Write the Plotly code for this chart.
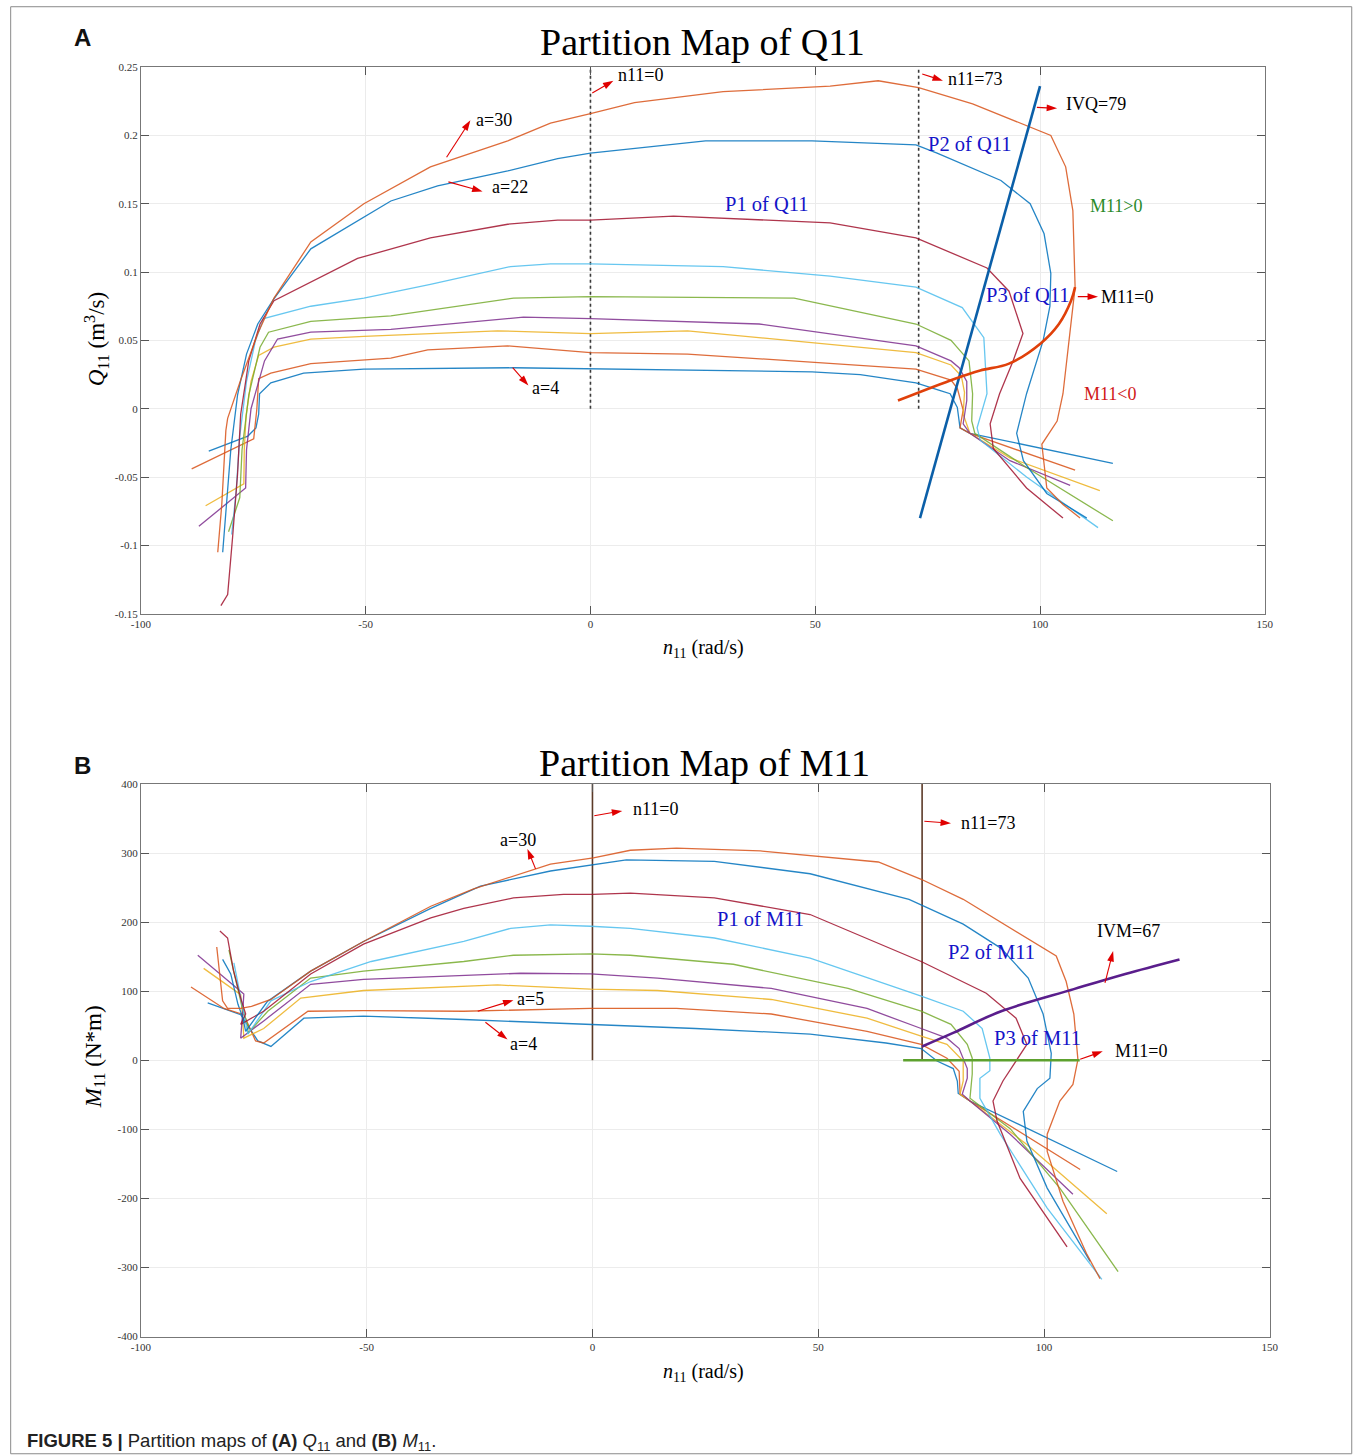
import plotly.graph_objects as go

# Measured page -> screenshot mapping of the viewer (scale and offset); every
# reference pixel position is converted through it.
SX, SY = 0.987, 0.9906
OX, OY = 9.0, 6.0
W, H = 1365, 1464
SERIF = "Liberation Serif"
SANS = "Liberation Sans"


def fx(px):
    return ((px - OX) / SX) / W


def fy(py):
    return 1 - ((py - OY) / SY) / H


# ------------------------------------------------------------------
# Panel A : Q11 curves (n11 in rad/s, Q11 in m^3/s)
# ------------------------------------------------------------------
Q_N_A4 = [-84.9, -76.2, -74.4, -73.8, -73.6, -71.1, -63.8, -50.4, -17.1, 4.4, 49.3, 60, 72.4, 78, 80, 81.6, 82.2, 84.4, 116.2]
Q_V_A4 = [-0.031, -0.020, -0.014, -0.004, 0.011, 0.019, 0.026, 0.029, 0.030, 0.029, 0.027, 0.025, 0.019, 0.013, 0.011, 0.001, -0.014, -0.018, -0.040]

Q_N_A5 = [-88.7, -74.9, -74.2, -73.8, -71.1, -62.2, -44.4, -36.2, -18.4, 0, 21.6, 72.4, 80.2, 81.6, 82.9, 82.2, 84.4, 107.8]
Q_V_A5 = [-0.044, -0.022, 0.0, 0.022, 0.026, 0.033, 0.037, 0.043, 0.046, 0.041, 0.040, 0.029, 0.021, 0.015, -0.001, -0.014, -0.018, -0.045]

Q_N_C3 = [-85.6, -77.1, -77.0, -76.6, -75.5, -73.8, -70.4, -62.2, -50.4, -20.7, 0, 21.6, 72.4, 80.2, 82.5, 83.2, 82.9, 84.4, 93.3, 113.3]
Q_V_C3 = [-0.071, -0.055, -0.030, -0.005, 0.020, 0.039, 0.045, 0.051, 0.053, 0.057, 0.055, 0.057, 0.041, 0.032, 0.024, 0.012, -0.004, -0.018, -0.036, -0.060]

Q_N_C4 = [-87.1, -76.7, -76.5, -75.5, -72.5, -69.6, -62.2, -44.4, -14.9, 0, 37.5, 72.4, 80.2, 82.0, 83.7, 83.7, 82.9, 84.4, 93.3, 106.7]
Q_V_C4 = [-0.086, -0.058, -0.030, 0.0, 0.035, 0.051, 0.056, 0.058, 0.067, 0.066, 0.062, 0.046, 0.035, 0.030, 0.020, 0.006, -0.011, -0.018, -0.038, -0.056]

Q_N_C5 = [-80.5, -78.0, -77.5, -76.0, -73.5, -71.6, -62.2, -44.4, -17.1, 0, 45.3, 72.4, 80.2, 84.2, 85.0, 84.8, 85.5, 97, 116.2]
Q_V_C5 = [-0.090, -0.065, -0.030, 0.010, 0.045, 0.056, 0.064, 0.068, 0.081, 0.082, 0.081, 0.062, 0.050, 0.035, 0.011, -0.009, -0.018, -0.043, -0.082]

Q_N_C6 = [-79.8, -78.8, -78.0, -76.5, -74.5, -72.7, -62.2, -50.4, -35.6, -17.8, -8.9, 0, 29.5, 53.3, 72.4, 82.7, 87.5, 88.2, 86.0, 86.7, 97, 112.9]
Q_V_C6 = [-0.092, -0.060, -0.020, 0.020, 0.050, 0.066, 0.075, 0.081, 0.091, 0.104, 0.106, 0.106, 0.104, 0.097, 0.089, 0.074, 0.052, 0.011, -0.014, -0.023, -0.050, -0.087]

Q_N_C7 = [-82.2, -80.7, -79.6, -78.5, -77.8, -76.0, -73.5, -70.4, -51.8, -44.4, -35.6, -18.4, -7.3, 0, 18.5, 53.3, 72.4, 88.2, 93.1, 96.2, 94.0, 91.0, 88.9, 89.6, 97, 105.1]
Q_V_C7 = [-0.144, -0.136, -0.094, -0.048, -0.004, 0.035, 0.062, 0.079, 0.110, 0.117, 0.125, 0.135, 0.138, 0.138, 0.141, 0.136, 0.125, 0.103, 0.086, 0.055, 0.035, 0.011, -0.011, -0.029, -0.058, -0.080]

Q_N_A22 = [-81.8, -81.0, -80.0, -78.5, -76.5, -74.0, -70.5, -62.2, -44.4, -34, -18.4, -7.3, 0, 25.6, 49.3, 72.4, 77.1, 91.3, 97.8, 100.9, 102.4, 102.2, 100.7, 97, 94.8, 96.3, 101.5, 110.4]
Q_V_A22 = [-0.105, -0.070, -0.030, 0.010, 0.040, 0.062, 0.080, 0.117, 0.152, 0.163, 0.174, 0.183, 0.187, 0.196, 0.196, 0.193, 0.187, 0.167, 0.150, 0.128, 0.099, 0.075, 0.050, 0.011, -0.018, -0.038, -0.062, -0.080]

Q_N_A30 = [-82.9, -82.0, -81.1, -80.7, -77.8, -74, -70.4, -62.2, -50.4, -35.6, -18.4, -8.9, 0, 9.8, 29.5, 53.3, 64, 73, 85, 102.4, 105.7, 107.3, 107.8, 106.7, 105.1, 103.8, 100.4, 101.5, 105.1, 108.9]
Q_V_A30 = [-0.105, -0.070, -0.016, -0.007, 0.021, 0.055, 0.081, 0.122, 0.150, 0.177, 0.196, 0.209, 0.216, 0.224, 0.232, 0.236, 0.240, 0.235, 0.223, 0.200, 0.177, 0.145, 0.089, 0.059, 0.011, -0.009, -0.026, -0.058, -0.070, -0.080]

# IVQ boundary line and M11=0 line in the Q11 map
IVQ_N = [73.3, 100]
IVQ_V = [-0.080, 0.236]
M0Q_N = [68.4, 81.1, 86.7, 93.1, 100.2, 104.2, 106.9, 107.8]
M0Q_V = [0.006, 0.022, 0.028, 0.033, 0.048, 0.062, 0.079, 0.089]

# ------------------------------------------------------------------
# Panel B : M11 curves (n11 in rad/s, M11 in N*m)
# ------------------------------------------------------------------
M_N_A4 = [-85.2, -77.9, -74.1, -71.2, -63.9, -50.7, -28.5, -0.4, 22.8, 48.2, 65, 72.8, 76.3, 79.9, 80.8, 81.0, 83.6, 116.2]
M_V_A4 = [83, 66, 28, 20, 61, 64, 59, 52, 46, 38, 25, 17, -1, -12, -30, -48, -59, -161]

M_N_A5 = [-88.9, -81.6, -77.2, -74.6, -72.8, -63, -50.7, -28.5, -0.4, 18.6, 39.6, 60.8, 72.8, 78.5, 81.2, 81.4, 83.6, 108]
M_V_A5 = [106, 75, 66, 28, 25, 71, 72, 71, 75, 75, 67, 42, 23, 3, -16, -49, -59, -158]

M_N_C3 = [-86.1, -77.9, -77.5, -77.2, -72.8, -64.6, -50.7, -21, -0.4, 14.4, 39.6, 60.8, 72.8, 78.5, 82.1, 82.1, 81.4, 83.6, 96.2, 113.9]
M_V_C3 = [133, 95, 65, 32, 46, 90, 101, 109, 103, 101, 88, 61, 35, 23, -1, -30, -49, -59, -122, -222]

M_N_C4 = [-87.4, -77.2, -77.5, -77.9, -72.8, -62.4, -50.7, -15.9, -0.4, 14.4, 39.6, 60.8, 72.8, 78.5, 81.2, 83.0, 83.0, 81.9, 83.6, 92.5, 106.4]
M_V_C4 = [152, 96, 65, 32, 57, 110, 117, 126, 125, 119, 104, 75, 46, 32, 17, -12, -26, -49, -59, -107, -194]

M_N_C5 = [-80.5, -79.5, -77.5, -76.3, -76.3, -71.9, -62.4, -50.7, -28.5, -17.5, -0.4, 8.4, 31.2, 56.6, 72.8, 79.4, 83.0, 84.1, 84.1, 83.6, 92.5, 103.5, 116.4]
M_V_C5 = [160, 130, 75, 50, 39, 71, 119, 129, 143, 152, 154, 152, 139, 104, 71, 52, 23, 3, -20, -55, -99, -185, -306]

M_N_C6 = [-79.4, -78.5, -77.0, -76.3, -71.2, -62.4, -49, -28.5, -18.1, -9.3, -0.4, 8.4, 27, 48.2, 72.8, 82.1, 86.3, 88.0, 88.0, 85.8, 85.8, 90.3, 100.7, 112.8]
M_V_C6 = [141, 110, 60, 38, 86, 114, 143, 172, 191, 196, 194, 191, 177, 148, 93, 71, 46, 3, -15, -26, -55, -107, -214, -317]

M_N_C7 = [-82.5, -80.8, -79.5, -77.9, -76.8, -77.9, -72.8, -62.4, -50.7, -35.8, -28.5, -17.5, -6.4, 0, 8.4, 27, 48.2, 72.8, 87.2, 93.8, 96.2, 90.9, 88.7, 89.6, 94.7, 105.1]
M_V_C7 = [187, 177, 130, 90, 67, 52, 71, 125, 168, 206, 220, 235, 240, 240, 242, 235, 211, 143, 97, 61, 23, -30, -59, -88, -171, -270]

M_N_A22 = [-81.9, -80.1, -78.5, -77.4, -76.8, -72, -62.4, -50.7, -35.8, -24.8, -9.3, 0, 7.5, 27, 48.2, 70.1, 82.1, 90.5, 96.5, 99.8, 101.6, 101.3, 98.5, 95.4, 96.2, 100.7, 110.2]
M_V_A22 = [146, 125, 81, 61, 42, 85, 129, 172, 220, 252, 274, 283, 290, 288, 270, 233, 197, 162, 119, 67, 10, -26, -41, -74, -117, -185, -291]

M_N_A30 = [-83.2, -81.9, -80.8, -77.9, -75.5, -71.2, -62.4, -50.7, -35.8, -26.3, -9.3, 0.2, 8.4, 18.6, 37.2, 63.3, 72.8, 82.1, 102.7, 104.9, 106.6, 107.5, 106.4, 103.5, 100.7, 100.7, 104.2, 109.5, 112.4]
M_V_A30 = [164, 86, 75, 75, 78, 88, 129, 172, 223, 248, 284, 293, 304, 307, 303, 287, 262, 233, 151, 114, 67, 1, -35, -59, -107, -132, -204, -281, -316]

# IVM boundary and M11=0 segment
IVM_N = [73, 80, 90.5, 106.6, 118, 130]
IVM_V = [20, 40, 71, 103, 125, 146]
M0M_N = [68.8, 107.9]
M0M_V = [0, 0]

# partition lines n11 = 0 and n11 = 73
PART_N = [0, 73]
Q_PART_RANGE = [0, 0.25]
M_PART_RANGE = [0, 400]

# ticks
X_TICKS = [-100, -50, 0, 50, 100, 150]
X_TICK_TEXT = ["-100", "-50", "0", "50", "100", "150"]
Q_TICKS = [-0.15, -0.1, -0.05, 0, 0.05, 0.1, 0.15, 0.2, 0.25]
Q_TICK_TEXT = ["-0.15", "-0.1", "-0.05", "0", "0.05", "0.1", "0.15", "0.2", "0.25"]
M_TICKS = [-400, -300, -200, -100, 0, 100, 200, 300, 400]
M_TICK_TEXT = ["-400", "-300", "-200", "-100", "0", "100", "200", "300", "400"]

CURVE_NAMES = ["a=4", "a=5", "curve 3", "curve 4", "curve 5", "curve 6", "curve 7", "a=22", "a=30"]
COLORS = ["#0072BD", "#D95319", "#EDB120", "#7E2F8E", "#77AC30", "#4DBEEE", "#A2142F", "#0072BD", "#D95319"]

Q_CURVES = [(Q_N_A4, Q_V_A4), (Q_N_A5, Q_V_A5), (Q_N_C3, Q_V_C3), (Q_N_C4, Q_V_C4), (Q_N_C5, Q_V_C5),
            (Q_N_C6, Q_V_C6), (Q_N_C7, Q_V_C7), (Q_N_A22, Q_V_A22), (Q_N_A30, Q_V_A30)]
M_CURVES = [(M_N_A4, M_V_A4), (M_N_A5, M_V_A5), (M_N_C3, M_V_C3), (M_N_C4, M_V_C4), (M_N_C5, M_V_C5),
            (M_N_C6, M_V_C6), (M_N_C7, M_V_C7), (M_N_A22, M_V_A22), (M_N_A30, M_V_A30)]

# red pointer arrows: (tail n11, tail value, head n11, head value)
Q_ARROWS = [(0.4, 0.231, 5.1, 0.240), (73.8, 0.245, 78.4, 0.240), (99.3, 0.2205, 103.8, 0.2198),
            (-32.0, 0.184, -26.7, 0.211), (-31.6, 0.166, -24.0, 0.159), (-17.3, 0.030, -13.8, 0.017),
            (108.4, 0.082, 112.9, 0.082)]
M_ARROWS = [(0.4, 354, 6.6, 361), (73.5, 346, 79.4, 343), (-12.6, 277, -14.4, 306),
            (-25.4, 71, -17.5, 87), (-23.7, 55, -18.8, 30), (113.5, 112, 115.3, 158), (108.0, 1.4, 113.0, 13)]

fig = go.Figure()

# partition vertical lines
for n in PART_N:
    fig.add_trace(go.Scatter(x=[n, n], y=Q_PART_RANGE, mode="lines", xaxis="x", yaxis="y",
                             line=dict(color="#3a3a3a", width=1.6, dash="dot"), showlegend=False, hoverinfo="skip"))
    fig.add_trace(go.Scatter(x=[n, n], y=M_PART_RANGE, mode="lines", xaxis="x2", yaxis="y2",
                             line=dict(color="#5C3A28", width=1.6), showlegend=False, hoverinfo="skip"))

for (nx, qy), name, c in zip(Q_CURVES, CURVE_NAMES, COLORS):
    fig.add_trace(go.Scatter(x=nx, y=qy, mode="lines", name=name, xaxis="x", yaxis="y",
                             line=dict(color=c, width=1.3), opacity=0.85, showlegend=False))
for (nx, my), name, c in zip(M_CURVES, CURVE_NAMES, COLORS):
    fig.add_trace(go.Scatter(x=nx, y=my, mode="lines", name=name, xaxis="x2", yaxis="y2",
                             line=dict(color=c, width=1.3), opacity=0.85, showlegend=False))

fig.add_trace(go.Scatter(x=IVQ_N, y=IVQ_V, mode="lines", xaxis="x", yaxis="y",
                         line=dict(color="#0B5FA8", width=2.6), showlegend=False))
fig.add_trace(go.Scatter(x=M0Q_N, y=M0Q_V, mode="lines", xaxis="x", yaxis="y",
                         line=dict(color="#E0400A", width=2.6, shape="spline"), showlegend=False))
fig.add_trace(go.Scatter(x=IVM_N, y=IVM_V, mode="lines", xaxis="x2", yaxis="y2",
                         line=dict(color="#5A1E8C", width=2.6, shape="spline"), showlegend=False))
fig.add_trace(go.Scatter(x=M0M_N, y=M0M_V, mode="lines", xaxis="x2", yaxis="y2",
                         line=dict(color="#5DA12E", width=2.6), showlegend=False))

for arrows, xa, ya in ((Q_ARROWS, "x", "y"), (M_ARROWS, "x2", "y2")):
    for x0, y0, x1, y1 in arrows:
        fig.add_trace(go.Scatter(x=[x0, x1], y=[y0, y1], mode="lines+markers", xaxis=xa, yaxis=ya,
                                 line=dict(color="#E00000", width=1.1),
                                 marker=dict(symbol="arrow", size=11, angleref="previous",
                                             opacity=[0, 1], color="#E00000", line=dict(width=0)),
                                 showlegend=False, hoverinfo="skip"))

axis_common = dict(showline=True, linecolor="#777777", linewidth=1, mirror="ticks", ticks="inside",
                   ticklen=8, tickcolor="#555555", showgrid=True, gridcolor="#ececec", gridwidth=1,
                   zeroline=False, tickfont=dict(family=SERIF, size=11, color="#333333"))

fig.update_layout(
    width=W, height=H, margin=dict(l=0, r=0, t=0, b=0),
    paper_bgcolor="white", plot_bgcolor="white", showlegend=False,
    xaxis=dict(domain=[fx(140), fx(1265)], anchor="y", range=[-100, 150],
               tickmode="array", tickvals=X_TICKS, ticktext=X_TICK_TEXT, **axis_common),
    yaxis=dict(domain=[fy(613), fy(67)], anchor="x", range=[-0.15, 0.25],
               tickmode="array", tickvals=Q_TICKS, ticktext=Q_TICK_TEXT, **axis_common),
    xaxis2=dict(domain=[fx(140), fx(1270)], anchor="y2", range=[-100, 150],
                tickmode="array", tickvals=X_TICKS, ticktext=X_TICK_TEXT, **axis_common),
    yaxis2=dict(domain=[fy(1335), fy(783)], anchor="x2", range=[-400, 400],
                tickmode="array", tickvals=M_TICKS, ticktext=M_TICK_TEXT, **axis_common),
)

ann = []


def ptext(px, py, text, size, family=SERIF, color="black", angle=0, xanchor="center"):
    ann.append(dict(x=fx(px), y=fy(py), xref="paper", yref="paper", text=text, showarrow=False,
                    font=dict(family=family, size=size, color=color), textangle=angle,
                    xanchor=xanchor, yanchor="middle"))


def dtext(ax, x, y, text, size=18, color="black"):
    ya = "y" if ax == "x" else "y2"
    ann.append(dict(x=x, y=y, xref=ax, yref=ya, text=text, showarrow=False,
                    font=dict(family=SERIF, size=size, color=color), xanchor="center", yanchor="middle"))


# titles, panel letters, axis labels
ptext(702, 42, "Partition Map of Q11", 38)
ptext(704, 762, "Partition Map of M11", 38)
ptext(82, 37, "<b>A</b>", 24, family=SANS, color="#111111")
ptext(82, 765, "<b>B</b>", 24, family=SANS, color="#111111")
ptext(703, 648, "<i>n</i><sub>11</sub> (rad/s)", 20)
ptext(703, 1371, "<i>n</i><sub>11</sub> (rad/s)", 20)
ptext(95, 339, "<i>Q</i><sub>11</sub> (m<sup>3</sup>/s)", 23, angle=-90)
ptext(94, 1055, "<i>M</i><sub>11</sub> (N*m)", 23, angle=-90)
ptext(24, 1440, "<b>FIGURE 5 |</b> Partition maps of <b>(A)</b> <i>Q</i><sub>11</sub> and <b>(B)</b> <i>M</i><sub>11</sub>.",
      18.5, family=SANS, color="#222222", xanchor="left")

# Panel A labels
dtext("x", 11.1, 0.244, "n11=0")
dtext("x", 85.5, 0.241, "n11=73")
dtext("x", 112.5, 0.2227, "IVQ=79")
dtext("x", -21.5, 0.211, "a=30")
dtext("x", -18.0, 0.162, "a=22")
dtext("x", -10.0, 0.015, "a=4")
dtext("x", 119.5, 0.082, "M11=0")
dtext("x", 39.3, 0.150, "P1 of Q11", size=20.5, color="#1414C8")
dtext("x", 84.4, 0.194, "P2 of Q11", size=20.5, color="#1414C8")
dtext("x", 97.3, 0.083, "P3 of Q11", size=20.5, color="#1414C8")
dtext("x", 117.0, 0.148, "M11>0", color="#2A8A2A")
dtext("x", 115.6, 0.011, "M11<0", color="#D01818")

# Panel B labels
dtext("x2", 13.9, 364, "n11=0")
dtext("x2", 87.6, 343, "n11=73")
dtext("x2", -16.4, 319, "a=30")
dtext("x2", -13.7, 88, "a=5")
dtext("x2", -15.3, 23, "a=4")
dtext("x2", 118.6, 187, "IVM=67")
dtext("x2", 121.5, 13, "M11=0")
dtext("x2", 37.2, 204, "P1 of M11", size=20.5, color="#1414C8")
dtext("x2", 88.3, 157, "P2 of M11", size=20.5, color="#1414C8")
dtext("x2", 98.5, 32, "P3 of M11", size=20.5, color="#1414C8")

fig.update_layout(annotations=ann)

# outer frame of the figure
fig.add_shape(type="rect", xref="paper", yref="paper", x0=0.0005, x1=fx(1352), y0=fy(1452), y1=0.9995,
              line=dict(color="#8a8a8a", width=1), fillcolor="rgba(0,0,0,0)", layer="below")

fig.write_html("out.html")
